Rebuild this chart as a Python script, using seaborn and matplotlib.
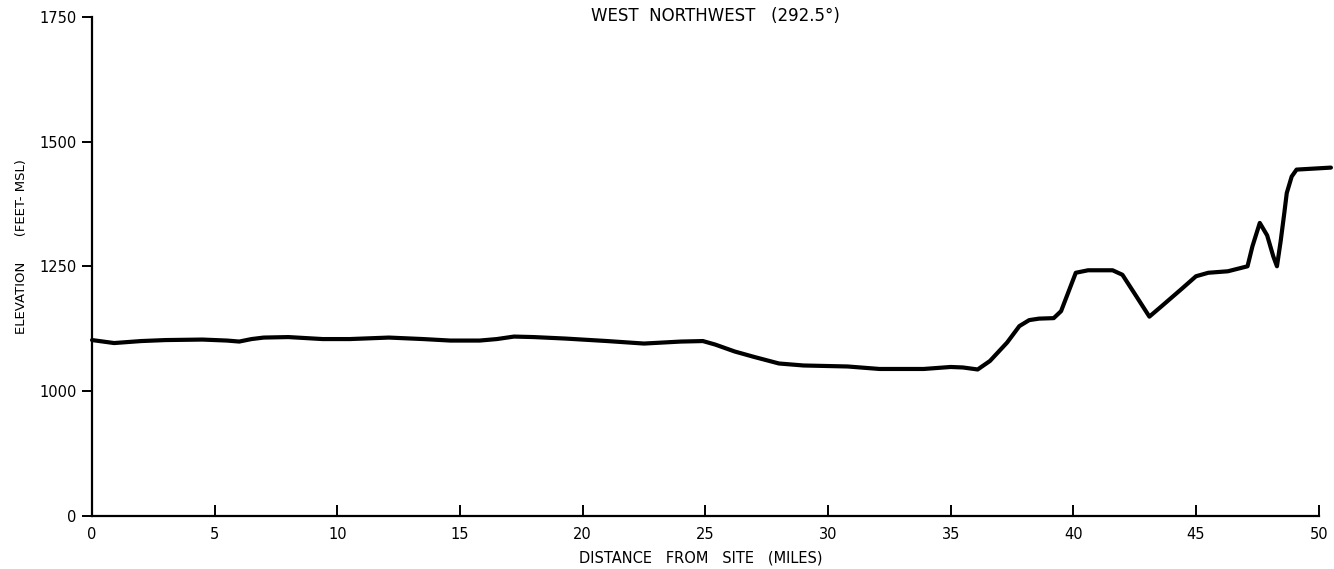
import numpy as np
import pandas as pd
import seaborn as sns
import matplotlib.pyplot as plt

# terrain profile
miles = [0.0, 0.9, 2.0, 3.0, 4.5, 5.5, 6.0, 6.5, 7.0, 8.0, 9.4, 10.5, 12.1, 13.5,
         14.6, 15.8, 16.5, 17.2, 18.0, 19.3, 21.0, 22.5, 24.0, 24.9, 25.4, 26.2,
         27.0, 28.0, 29.0, 30.8, 32.1, 33.9, 35.0, 35.5, 36.1, 36.6, 37.3, 37.8,
         38.2, 38.6, 39.2, 39.5, 40.1, 40.6, 41.6, 42.0, 42.5, 43.1, 43.6, 44.4,
         45.0, 45.5, 46.3, 47.1, 47.3, 47.6, 47.9, 48.15, 48.3, 48.45, 48.6, 48.7,
         48.9, 49.1, 50.5]
elev = [1102, 1096, 1100, 1102, 1103, 1101, 1099, 1104, 1107, 1108, 1104, 1104,
        1107, 1104, 1101, 1101, 1104, 1109, 1108, 1105, 1100, 1095, 1099, 1100,
        1093, 1079, 1068, 1055, 1051, 1049, 1044, 1044, 1048, 1047, 1043, 1060,
        1097, 1130, 1142, 1145, 1146, 1160, 1237, 1242, 1242, 1233, 1195, 1149,
        1170, 1204, 1230, 1237, 1240, 1250, 1290, 1337, 1312, 1270, 1250, 1300,
        1357, 1397, 1430, 1444, 1448]

x_ticks = [0, 5, 10, 15, 20, 25, 30, 35, 40, 45, 50]
y_ticks = [0, 1000, 1250, 1500, 1750]

df = pd.DataFrame({"miles": miles, "elev": elev})

sns.set_style("ticks")
plt.rcParams['font.family'] = ['DejaVu Sans']
plt.rcParams['text.color'] = 'black'
plt.rcParams['xtick.color'] = 'black'
plt.rcParams['ytick.color'] = 'black'

fig = plt.figure(figsize=(13.34, 5.69), dpi=100)
ax = fig.add_axes([0.069, 0.094, 0.9195, 0.876])

sns.lineplot(data=df, x="miles", y="elev", ax=ax, color="black", lw=3.0,
             estimator=None, sort=False, clip_on=False)

# broken elevation axis: 0-1000 squeezed into one 250 ft step
def fwd(e):
    e = np.asarray(e, dtype=float)
    return np.where(e >= 1000, e - 750, e * 0.25)

def inv(v):
    v = np.asarray(v, dtype=float)
    return np.where(v >= 250, v + 750, v * 4)

ax.set_yscale("function", functions=(fwd, inv))
ax.set_ylim(0, 1750)
ax.set_xlim(0, 50)
ax.set_yticks(y_ticks)
ax.set_yticklabels([str(v) for v in y_ticks])
ax.set_xticks(x_ticks)
ax.set_xticklabels([str(v) for v in x_ticks])
ax.minorticks_off()

for s in ["top", "right"]:
    ax.spines[s].set_visible(False)
for s in ["left", "bottom"]:
    ax.spines[s].set_linewidth(1.6)
    ax.spines[s].set_color("black")

ax.tick_params(axis="x", direction="in", length=8, width=1.4, pad=8, labelsize=10.5)
ax.tick_params(axis="y", direction="out", length=7, width=1.4, pad=4, labelsize=10.5)

ax.set_xlabel("")
ax.set_ylabel("")
fig.text(0.525, 0.019, "DISTANCE   FROM   SITE   (MILES)", ha="center", va="center",
         fontsize=10.5)
fig.text(0.016, 0.566, "ELEVATION      (FEET- MSL)", ha="center", va="center",
         rotation=90, fontsize=9.5)
fig.text(0.536, 0.972, "WEST  NORTHWEST   (292.5°)", ha="center", va="center",
         fontsize=12)

fig.savefig("out.png", dpi=100)
